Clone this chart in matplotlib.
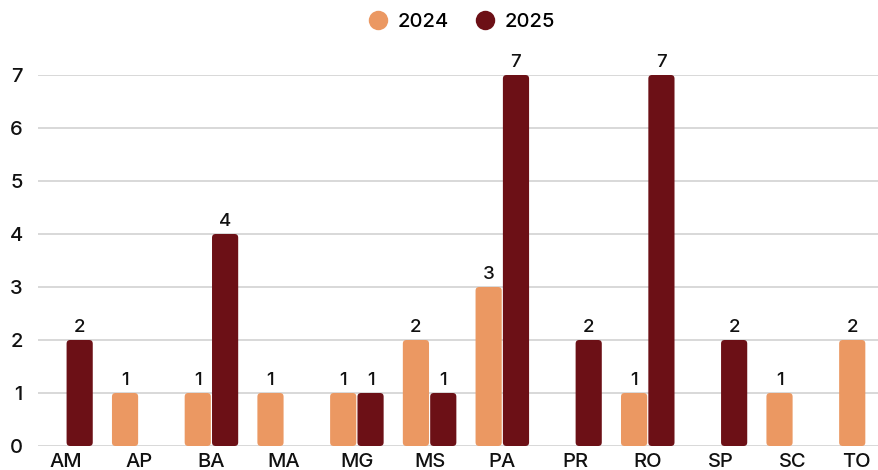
import matplotlib.pyplot as plt
import matplotlib.transforms as mtransforms
from matplotlib.patches import FancyBboxPatch
from matplotlib.lines import Line2D
import numpy as np

plt.rcParams['font.family'] = ['Inter', 'DejaVu Sans']

# ── data ─────────────────────────────────────────────────────────────────────
states = ["AM", "AP", "BA", "MA", "MG", "MS", "PA", "PR", "RO", "SP", "SC", "TO"]
v2024 = [0, 1, 1, 1, 1, 2, 3, 0, 1, 0, 1, 2]
v2025 = [2, 0, 4, 0, 1, 1, 7, 2, 7, 2, 0, 0]

C24 = "#EB9862"
C25 = "#6C1016"

fig = plt.figure(figsize=(8.79, 4.70), dpi=100)
ax = fig.add_axes([38 / 879, 1 - 446 / 470, 1 - 38 / 879, (446 - 75) / 470])

x = np.arange(len(states))
w = 0.36
gap = 0.008


def rounded_bars(xs, vals, color):
    for xi, v in zip(xs, vals):
        if v <= 0:
            continue
        # pixels per unit: x ~72.7, y ~53 -> keep the corners round
        p = FancyBboxPatch((xi, 0), w, v,
                           boxstyle="round,pad=0,rounding_size=0.05",
                           mutation_aspect=72.7 / 53,
                           fc=color, ec="none", zorder=3)
        ax.add_patch(p)
        ax.text(xi + w / 2, v + 0.07, str(v), ha="center", va="bottom",
                fontsize=13.5, fontweight="medium", color="#111111", clip_on=False)


rounded_bars(x - w - gap, v2024, C24)
rounded_bars(x + gap, v2025, C25)

ax.set_xlim(-0.385, 11.18)
ax.set_ylim(0, 7)
ax.set_yticks(range(0, 8))
ax.set_xticks(x)
ax.set_xticklabels(states)
ax.tick_params(axis="both", length=0, labelsize=14.5, colors="#111111")
ax.tick_params(axis="y", pad=11)
ax.tick_params(axis="x", pad=5)
for lbl in ax.get_xticklabels() + ax.get_yticklabels():
    lbl.set_fontweight("medium")
# last label is nudged left so it stays inside the canvas
last = ax.get_xticklabels()[-1]
last.set_transform(last.get_transform() + mtransforms.ScaledTranslation(-10 / 100, 0, fig.dpi_scale_trans))
ax.grid(axis="y", color="#d6d6d6", lw=1.3, zorder=0)
ax.set_axisbelow(True)
for s in ax.spines.values():
    s.set_visible(False)

handles = [Line2D([], [], marker="o", ls="none", ms=14, mfc=C24, mec="none"),
           Line2D([], [], marker="o", ls="none", ms=14, mfc=C25, mec="none")]
fig.legend(handles, ["2024", "2025"], loc="center", bbox_to_anchor=(0.525, 1 - 22 / 470),
           ncol=2, frameon=False, handlelength=1.0, handletextpad=0.45, columnspacing=1.3,
           prop={"size": 14.5, "weight": "medium"})

fig.savefig("out.png", dpi=100)
